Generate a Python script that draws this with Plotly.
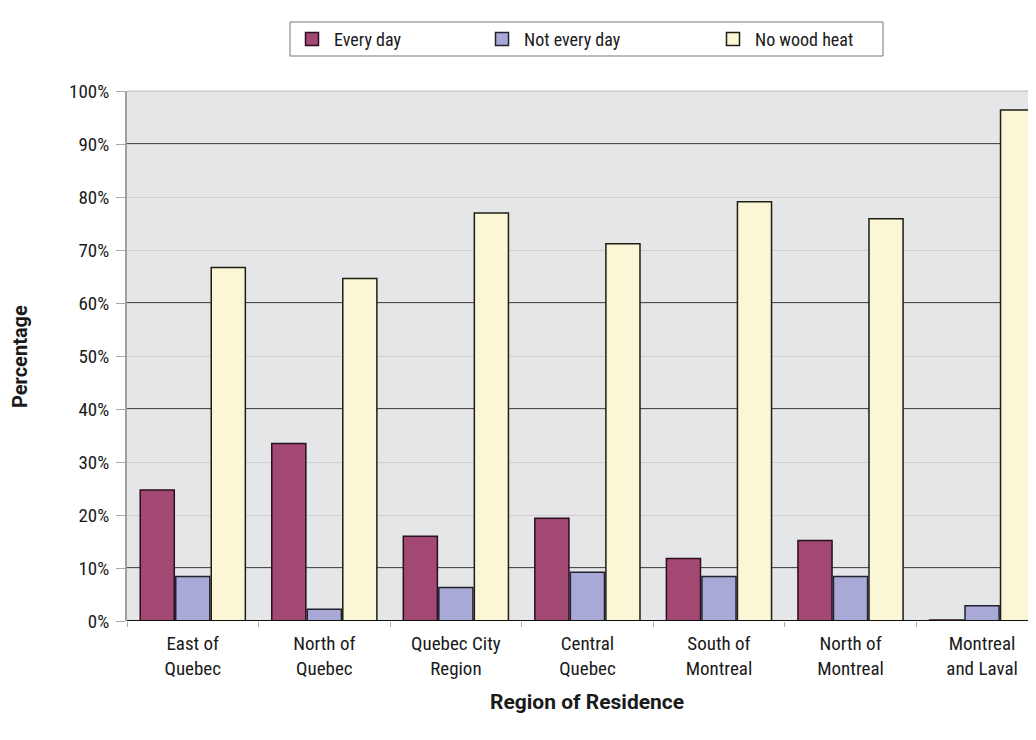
import plotly.graph_objects as go

regions = ["East of<br>Quebec", "North of<br>Quebec", "Quebec City<br>Region", "Central<br>Quebec",
           "South of<br>Montreal", "North of<br>Montreal", "Montreal<br>and Laval"]
series_names = ["Every day", "Not every day", "No wood heat"]
every_day = [24.7, 33.5, 16.0, 19.4, 11.8, 15.2, 0.2]
not_every_day = [8.4, 2.2, 6.3, 9.2, 8.4, 8.4, 2.9]
no_wood_heat = [66.7, 64.6, 77.0, 71.2, 79.1, 75.9, 96.4]
y_ticks = [0, 10, 20, 30, 40, 50, 60, 70, 80, 90, 100]
y_tick_labels = [f"{v}%" for v in y_ticks]
dark_grid = [10, 40, 60, 90]

FONT = "Liberation Sans Narrow, Roboto Condensed, DejaVu Sans Condensed, Arial Narrow, sans-serif"
TITLE_FONT = "Roboto, Liberation Sans, sans-serif"
colors = ["#a34872", "#a8a9d6", "#fbf7d6"]
edge_colors = ["#2a0f1e", "#22222e", "#1e1e14"]

# The page body has an 8px margin; size the figure so it fills the 1036x740 window.
OFF = 8
W, H = 1036 - OFF, 740 - OFF
ML, MR, MT, MB = 119, 0, 83, 119
PW, PH = W - ML - MR, H - MT - MB


def px_x(p):
    return (p - OFF - ML) / PW


def px_y(p):
    return (OFF + H - MB - p) / PH


fig = go.Figure()
for name, vals, col, lc in zip(series_names, [every_day, not_every_day, no_wood_heat], colors, edge_colors):
    fig.add_trace(go.Bar(x=regions, y=vals, name=name, showlegend=False,
                         marker=dict(color=col, line=dict(color=lc, width=1.5))))

for g in dark_grid:
    fig.add_shape(type="line", xref="paper", x0=0, x1=1, yref="y", y0=g, y1=g,
                  line=dict(color="#1a1a1a", width=1.3), layer="below")

fig.update_layout(
    width=W, height=H,
    margin=dict(l=ML, r=MR, t=MT, b=MB, autoexpand=False),
    paper_bgcolor="white", plot_bgcolor="#e5e6e8",
    font=dict(family=FONT, size=18, color="#1a1a1a"),
    barmode="group", bargap=0.19, bargroupgap=0.04,
    showlegend=False,
    xaxis=dict(type="category", range=[-0.5, 6.41], tickson="boundaries",
               ticks="outside", ticklen=5, tickcolor="#aaaaaa", ticklabelstandoff=9,
               showgrid=False, showline=False, zeroline=False, automargin=False,
               tickfont=dict(size=19, family=FONT)),
    yaxis=dict(range=[0, 100], tickvals=y_ticks, ticktext=y_tick_labels,
               ticks="outside", ticklen=9, tickcolor="#aaaaaa", ticklabelstandoff=3,
               showgrid=True, gridcolor="#d0d0d2", gridwidth=1, automargin=False,
               showline=True, linecolor="#a0a0a0", linewidth=2, mirror=False,
               zeroline=False, tickfont=dict(size=19, family=FONT)),
)

# baseline and top frame
fig.add_shape(type="line", xref="paper", x0=0, x1=1, yref="y", y0=0, y1=0,
              line=dict(color="#111111", width=2))
fig.add_shape(type="line", xref="paper", x0=0, x1=1, yref="paper", y0=1, y1=1,
              line=dict(color="#bbbbbb", width=1))

# legend box
fig.add_shape(type="rect", xref="paper", yref="paper",
              x0=px_x(290), x1=px_x(883), y0=px_y(56), y1=px_y(22),
              line=dict(color="#777777", width=1), fillcolor="white")
legend_sym_x = [312, 502, 733]
for name, col, lc, sx in zip(series_names, colors, edge_colors, legend_sym_x):
    fig.add_shape(type="rect", xref="paper", yref="paper",
                  x0=px_x(sx - 6.5), x1=px_x(sx + 6.5), y0=px_y(45.5), y1=px_y(32.5),
                  line=dict(color=lc, width=1.5), fillcolor=col)
    fig.add_annotation(text=name, xref="paper", yref="paper", x=px_x(sx + 20), y=px_y(39),
                       xanchor="left", yanchor="middle", showarrow=False,
                       font=dict(size=18, family=FONT, color="#1a1a1a"))

fig.add_annotation(text="<b>Percentage</b>", xref="paper", yref="paper", x=px_x(20), y=px_y(357),
                   xanchor="center", yanchor="middle",
                   textangle=-90, showarrow=False, font=dict(size=20, family=TITLE_FONT))
fig.add_annotation(text="<b>Region of Residence</b>", xref="paper", yref="paper",
                   x=px_x(587), y=px_y(702), xanchor="center", yanchor="middle", showarrow=False,
                   font=dict(size=21, family=TITLE_FONT))

fig.write_html("out.html")
